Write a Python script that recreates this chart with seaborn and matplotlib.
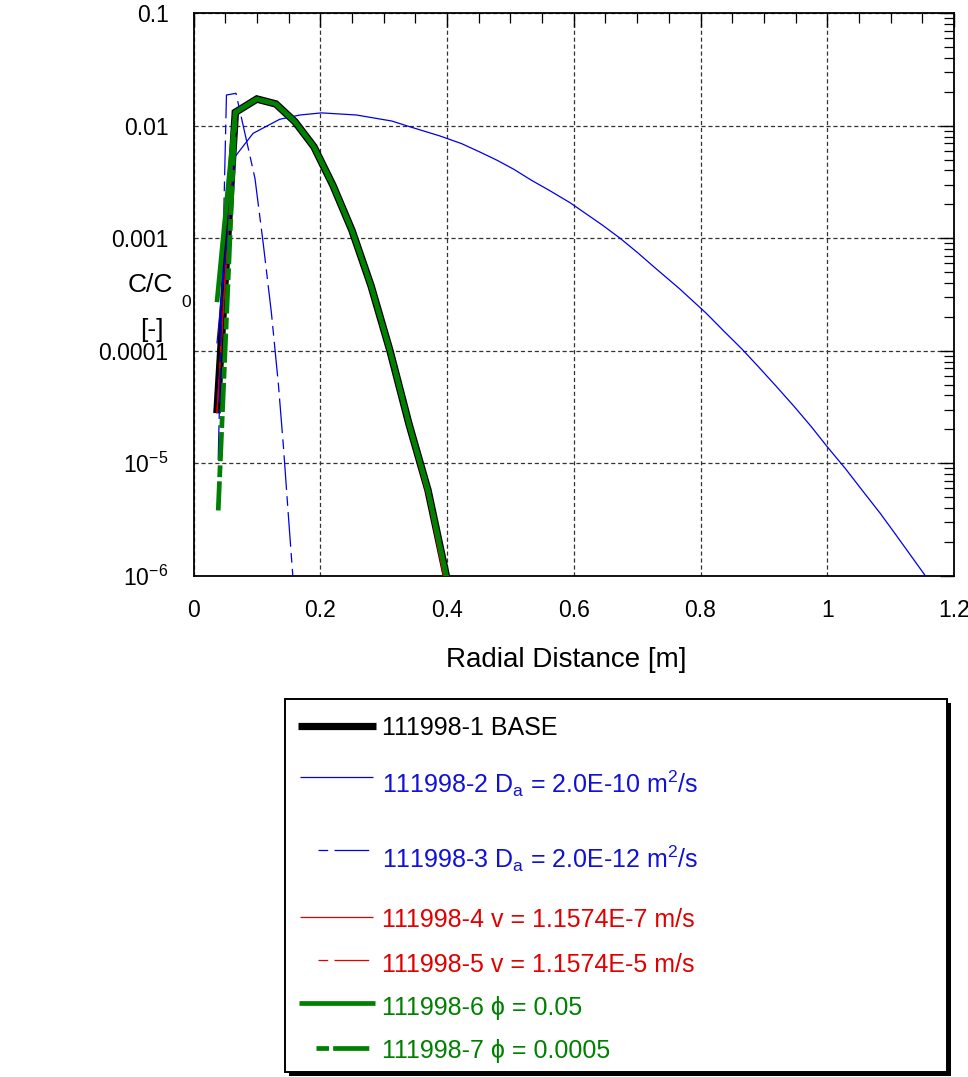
import numpy as np
import pandas as pd
import matplotlib
matplotlib.use("Agg")
import matplotlib.pyplot as plt
import seaborn as sns
from matplotlib.ticker import MultipleLocator, LogLocator, FixedLocator, FixedFormatter, NullFormatter
from matplotlib.patches import Rectangle
from matplotlib.lines import Line2D

# ---------------- data ----------------
x_base = [0.037, 0.066, 0.10, 0.13, 0.16, 0.19, 0.22, 0.25, 0.28, 0.31, 0.34, 0.37, 0.40]
y_base = [2.78e-5, 1.315e-2, 1.726e-2, 1.56e-2, 1.086e-2, 6.5e-3, 2.95e-3, 1.175e-3,
          3.8e-4, 1.0e-4, 2.23e-5, 5.75e-6, 9.3e-7]

x_da10 = [0.037, 0.0655, 0.094, 0.136, 0.168, 0.202, 0.257, 0.313, 0.341, 0.389, 0.423,
          0.452, 0.479, 0.506, 0.533, 0.561, 0.594, 0.616, 0.645, 0.673, 0.700, 0.727,
          0.767, 0.8095, 0.836, 0.865, 0.891, 0.919, 0.947, 0.974, 1.000, 1.029, 1.056,
          1.084, 1.111, 1.165]
y_da10 = [1.16e-4, 5.30e-3, 8.55e-3, 1.14e-2, 1.245e-2, 1.30e-2, 1.245e-2, 1.10e-2, 9.8e-3,
          8.1e-3, 6.93e-3, 5.83e-3, 4.93e-3, 4.08e-3, 3.28e-3, 2.67e-3, 2.07e-3, 1.70e-3,
          1.31e-3, 1.0e-3, 7.5e-4, 5.53e-4, 3.55e-4, 2.14e-4, 1.51e-4, 1.04e-4, 7.24e-5,
          4.86e-5, 3.23e-5, 2.14e-5, 1.40e-5, 8.9e-6, 5.66e-6, 3.56e-6, 2.20e-6, 8.3e-7]

x_da12 = [0.039, 0.052, 0.067, 0.097, 0.110, 0.123, 0.134, 0.142, 0.1495, 0.158]
y_da12 = [1.07e-5, 1.875e-2, 1.94e-2, 3.40e-3, 9.0e-4, 2.15e-4, 5.0e-5, 1.38e-5, 3.55e-6, 7.9e-7]

x_v7 = [0.037, 0.066, 0.10, 0.13, 0.16, 0.19, 0.22, 0.25, 0.28, 0.31, 0.34, 0.37, 0.40]
y_v7 = [2.78e-5, 1.33e-2, 1.74e-2, 1.56e-2, 1.08e-2, 6.4e-3, 2.9e-3, 1.13e-3,
        3.7e-4, 9.3e-5, 2.0e-5, 4.8e-6, 7.0e-7]

x_v5 = [0.037, 0.066, 0.10, 0.13, 0.16, 0.19, 0.22, 0.25, 0.28, 0.31, 0.34, 0.37, 0.40]
y_v5 = [2.78e-5, 1.315e-2, 1.726e-2, 1.56e-2, 1.086e-2, 6.5e-3, 2.95e-3, 1.175e-3,
        3.8e-4, 1.0e-4, 2.23e-5, 5.75e-6, 9.3e-7]

x_phi05 = [0.037, 0.066, 0.10, 0.13, 0.16, 0.19, 0.22, 0.25, 0.28, 0.31, 0.34, 0.37, 0.40]
y_phi05 = [2.7e-4, 1.315e-2, 1.726e-2, 1.56e-2, 1.086e-2, 6.5e-3, 2.95e-3, 1.175e-3,
           3.8e-4, 1.0e-4, 2.23e-5, 5.75e-6, 9.3e-7]

x_phi0005 = [0.039, 0.066, 0.10, 0.13, 0.16, 0.19, 0.22, 0.25, 0.28, 0.31, 0.34, 0.37, 0.40]
y_phi0005 = [3.8e-6, 1.315e-2, 1.726e-2, 1.56e-2, 1.086e-2, 6.5e-3, 2.95e-3, 1.175e-3,
             3.8e-4, 1.0e-4, 2.23e-5, 5.75e-6, 9.3e-7]

labels = ["111998-1 BASE",
          "111998-2 D$_{\\mathrm{a}}$ = 2.0E-10 m$^{2}$/s",
          "111998-3 D$_{\\mathrm{a}}$ = 2.0E-12 m$^{2}$/s",
          "111998-4 v = 1.1574E-7 m/s",
          "111998-5 v = 1.1574E-5 m/s",
          "111998-6 \u03d5 = 0.05",
          "111998-7 \u03d5 = 0.0005"]

xtick_vals = [0, 0.2, 0.4, 0.6, 0.8, 1.0, 1.2]
xtick_labels = ["0", "0.2", "0.4", "0.6", "0.8", "1", "1.2"]
ytick_vals = [1e-6, 1e-5, 1e-4, 1e-3, 1e-2, 1e-1]
ytick_labels = ["10$^{-6}$", "10$^{-5}$", "0.0001", "0.001", "0.01", "0.1"]

# ---------------- style ----------------
sns.set_theme(style="white")
plt.rcParams["font.family"] = ["Liberation Sans", "DejaVu Sans"]
plt.rcParams["mathtext.fontset"] = "custom"
plt.rcParams["mathtext.rm"] = "Liberation Sans"
plt.rcParams["mathtext.it"] = "Liberation Sans:italic"
plt.rcParams["mathtext.bf"] = "Liberation Sans:bold"
plt.rcParams["lines.scale_dashes"] = False

W, H = 968, 1077
fig = plt.figure(figsize=(W / 100, H / 100), dpi=100)
fig.patch.set_facecolor("white")

ax_l, ax_r, ax_t, ax_b = 193.5, 954.0, 13.2, 575.7
ax = fig.add_axes([ax_l / W, 1 - ax_b / H, (ax_r - ax_l) / W, (ax_b - ax_t) / H])
ax.set_facecolor("white")
ax.set_yscale("log")

BLUE = "#0000E6"
RED = "#E00000"
GREEN = "#008000"
TXT_BLUE = "#1010D8"

dash_blue = (0, (25, 4.5, 7, 4.5))
dash_green = (0, (21, 3, 8.5, 3))

series = [
    (x_base, y_base, "black", 5.4, "-"),
    (x_v7, y_v7, RED, 0.9, "-"),
    (x_v5, y_v5, RED, 0.9, dash_blue),
    (x_da10, y_da10, BLUE, 0.9, "-"),
    (x_da12, y_da12, BLUE, 0.9, dash_blue),
    (x_phi05, y_phi05, GREEN, 3.4, "-"),
    (x_phi0005, y_phi0005, GREEN, 3.4, dash_green),
]
for i, (xs, ys, c, lw, ls) in enumerate(series):
    df = pd.DataFrame({"r": xs, "c": ys})
    sns.lineplot(data=df, x="r", y="c", ax=ax, color=c, linewidth=lw, linestyle=ls,
                 estimator=None, sort=False, solid_capstyle="butt", solid_joinstyle="miter",
                 dash_capstyle="butt", zorder=3 + i)

ax.set_xlim(0, 1.2)
ax.set_ylim(1e-6, 0.1)

ax.xaxis.set_major_locator(FixedLocator(xtick_vals))
ax.xaxis.set_major_formatter(FixedFormatter(xtick_labels))
ax.xaxis.set_minor_locator(MultipleLocator(0.05))
ax.yaxis.set_major_locator(FixedLocator(ytick_vals))
ax.yaxis.set_major_formatter(FixedFormatter(ytick_labels))
ax.yaxis.set_minor_locator(LogLocator(base=10, subs=np.arange(2, 10), numticks=20))
ax.yaxis.set_minor_formatter(NullFormatter())

ax.tick_params(which="both", direction="in", top=True, right=True, colors="black",
               labelsize=16.5)
ax.tick_params(axis="y", which="major", pad=18)
ax.tick_params(axis="x", which="major", pad=17)
ax.tick_params(which="major", length=10, width=1.0)
ax.tick_params(which="minor", length=7, width=0.9)
ax.grid(True, which="major", color="0.2", linestyle=(0, (3, 2)), linewidth=0.9)
ax.grid(False, which="minor")
for sp in ax.spines.values():
    sp.set_color("black")
    sp.set_linewidth(1.3)
    sp.set_visible(True)

ax.set_xlabel("Radial Distance [m]", fontsize=20, va="center", color="black")
ax.xaxis.set_label_coords((566 - ax_l) / (ax_r - ax_l), -(660 - ax_b) / (ax_b - ax_t))
ax.set_ylabel("")

def fx(x):
    return x / W

def fy(y):
    return 1 - y / H

fig.text(fx(150), fy(285), "C/C", fontsize=19, ha="center", va="center", color="black")
fig.text(fx(186), fy(302), "0", fontsize=12.5, ha="center", va="center", color="black")
fig.text(fx(152), fy(330), "[-]", fontsize=19, ha="center", va="center", color="black")

# ---------------- legend box ----------------
lax = fig.add_axes([0, 0, 1, 1])
lax.set_xlim(0, W)
lax.set_ylim(H, 0)
lax.axis("off")
lax.patch.set_alpha(0)

bx0, by0, bx1, by1 = 285, 699, 947, 1072
lax.add_patch(Rectangle((bx0 + 4, by0 + 4), bx1 - bx0, by1 - by0, facecolor="black",
                        edgecolor="none", zorder=1))
lax.add_patch(Rectangle((bx0, by0), bx1 - bx0, by1 - by0, facecolor="white",
                        edgecolor="black", linewidth=1.4, zorder=2))

leg_rows = [
    # handle x0, x1, handle y, text baseline, color, text color, lw, ls
    (298, 376, 726, 735, "black", "black", 5.2, "-"),
    (300, 373, 777, 793, BLUE, TXT_BLUE, 0.9, "-"),
    (318, 369, 850, 868, BLUE, TXT_BLUE, 0.9, (0, (7, 4.5, 25, 4.5))),
    (300, 373, 917, 927, RED, RED, 0.9, "-"),
    (318, 369, 960, 972, RED, RED, 0.9, (0, (7, 4.5, 25, 4.5))),
    (299, 375, 1003, 1015, GREEN, GREEN, 3.4, "-"),
    (316, 371, 1048, 1058, GREEN, GREEN, 3.4, (0, (9, 3, 26, 3))),
]
for lab, (x0, x1, hy, ty, c, tc, lw, ls) in zip(labels, leg_rows):
    lax.add_line(Line2D([x0, x1], [hy, hy], color=c, linewidth=lw, linestyle=ls,
                        solid_capstyle="butt", dash_capstyle="butt", zorder=3))
    lax.text(382, ty, lab, color=tc, fontsize=18, ha="left", va="baseline", zorder=3,
             family=["Liberation Sans", "DejaVu Sans"])

fig.savefig("out.png", dpi=100, facecolor="white")
